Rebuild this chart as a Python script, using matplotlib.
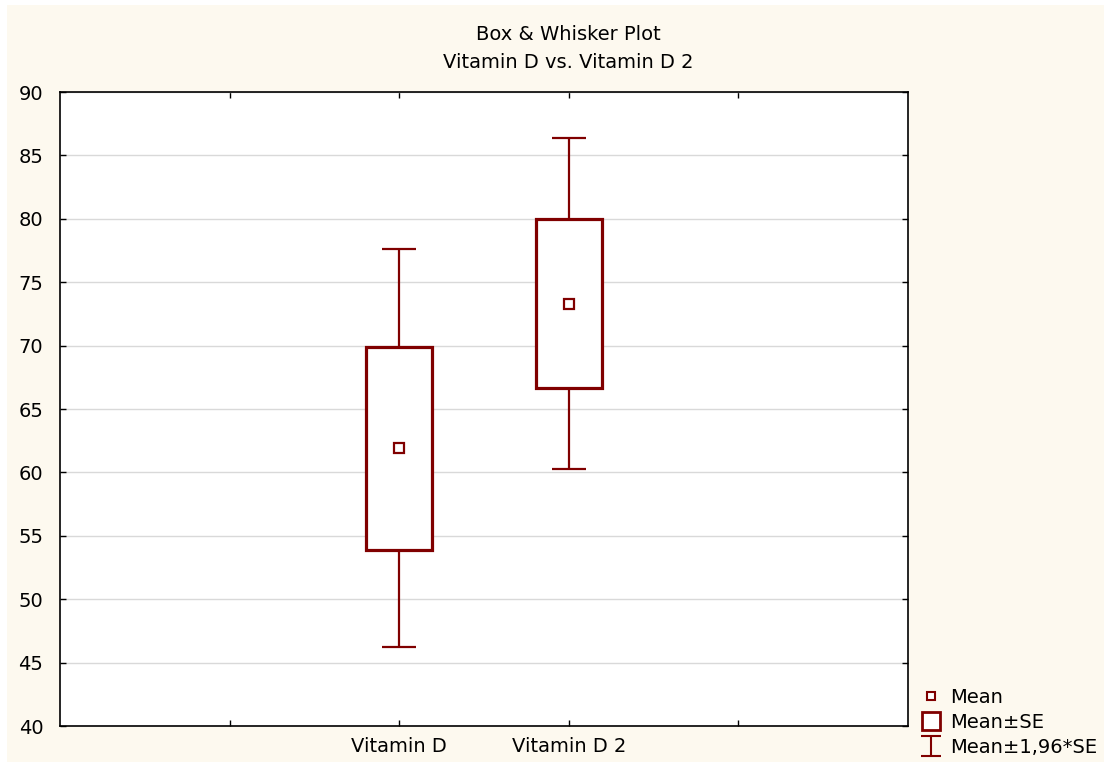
import numpy as np
import matplotlib.pyplot as plt
from matplotlib.lines import Line2D
from matplotlib.path import Path
from matplotlib.patches import Rectangle

plt.rcParams['font.family'] = ['DejaVu Sans']

groups = ['Vitamin D', 'Vitamin D 2']
means = [61.9, 73.3]
se = [8.0, 6.65]
z = 1.96

col = '#800000'
fs = 14

fig = plt.figure(figsize=(11.12, 7.69), dpi=100)
fig.patch.set_facecolor('white')
fig.patches.append(Rectangle((7 / 1112, 7 / 769), 1097 / 1112, 757 / 769,
                             transform=fig.transFigure, facecolor='#fdf9ef',
                             edgecolor='none', zorder=-10))

ax = fig.add_axes([60 / 1112, 1 - 726 / 769, 848 / 1112, 634 / 769])
ax.set_facecolor('white')

xpos = np.array([2, 3])
m = np.array(means)
s = np.array(se)

# boxes: mean +/- SE
ax.bar(xpos, 2 * s, bottom=m - s, width=0.39, facecolor='white',
       edgecolor=col, linewidth=2.3, zorder=3)
# whiskers: mean +/- 1.96*SE
ax.vlines(xpos, m + s, m + z * s, color=col, linewidth=1.6, zorder=2)
ax.vlines(xpos, m - z * s, m - s, color=col, linewidth=1.6, zorder=2)
ax.hlines(m + z * s, xpos - 0.1, xpos + 0.1, color=col, linewidth=1.6, zorder=2)
ax.hlines(m - z * s, xpos - 0.1, xpos + 0.1, color=col, linewidth=1.6, zorder=2)
ax.plot(xpos, m, 's', markersize=6.5, markerfacecolor='white',
        markeredgecolor=col, markeredgewidth=1.6, zorder=4)

ax.set_xlim(0, 5)
ax.set_ylim(40, 90)
ax.set_yticks(np.arange(40, 91, 5))
ax.set_xticks([1, 2, 3, 4])
ax.set_xticklabels(['', groups[0], groups[1], ''])
ax.tick_params(direction='in', length=4, width=1, labelsize=fs,
               top=True, right=True)
ax.tick_params(axis='x', pad=8)
ax.tick_params(axis='y', pad=12)
ax.yaxis.grid(True, color='#d9d9d9', linewidth=1)
ax.set_axisbelow(True)
for sp in ax.spines.values():
    sp.set_linewidth(1.2)

fig.text(0.511, 1 - 34 / 769, 'Box & Whisker Plot', ha='center', va='center', fontsize=fs)
fig.text(0.511, 1 - 63 / 769, 'Vitamin D vs. Vitamin D 2', ha='center', va='center', fontsize=fs)

ibeam = Path([(-1, 1), (1, 1), (0, 1), (0, -1), (-1, -1), (1, -1)],
             [Path.MOVETO, Path.LINETO, Path.MOVETO, Path.LINETO, Path.MOVETO, Path.LINETO])
handles = [
    Line2D([], [], linestyle='none', marker='s', markersize=6, markerfacecolor='white',
           markeredgecolor=col, markeredgewidth=1.5),
    Line2D([], [], linestyle='none', marker='s', markersize=13.5, markerfacecolor='white',
           markeredgecolor=col, markeredgewidth=2),
    Line2D([], [], linestyle='none', marker=ibeam, markersize=14, markerfacecolor='none',
           markeredgecolor=col, markeredgewidth=1.5),
]
fig.legend(handles, ['Mean', 'Mean\u00b1SE', 'Mean\u00b11,96*SE'],
           loc='upper left', bbox_to_anchor=(921 / 1112, 1 - 688 / 769),
           frameon=False, fontsize=fs, handlelength=1.0, handletextpad=0.5,
           labelspacing=0.3, borderaxespad=0, borderpad=0)

fig.savefig('out.png', dpi=100, facecolor=fig.get_facecolor())
